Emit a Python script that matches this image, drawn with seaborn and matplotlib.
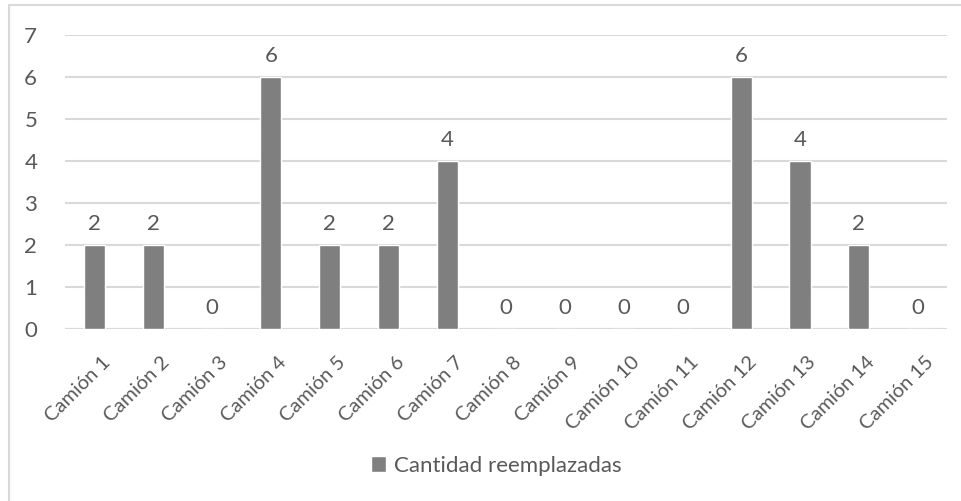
import matplotlib
matplotlib.use("Agg")
import matplotlib.pyplot as plt
import matplotlib.transforms as mtransforms
from matplotlib.patches import Patch, Rectangle
import pandas as pd
import seaborn as sns

# Data
camiones = [f"Camión {i}" for i in range(1, 16)]
cantidad = [2, 2, 0, 6, 2, 2, 4, 0, 0, 0, 0, 6, 4, 2, 0]
y_ticks = [0, 1, 2, 3, 4, 5, 6, 7]
serie = "Cantidad reemplazadas"

sns.set_style("white")
plt.rcParams["font.family"] = ["Lato", "DejaVu Sans"]

TEXT = "#595959"
BAR = "#7F7F7F"
GRID = "#D9D9D9"
FS = 16
FS_CAT = 14.5

W, H = 962, 501
fig = plt.figure(figsize=(W / 100, H / 100), dpi=100)

# Chart frame (only top/left edges fall inside the image)
fig.patches.append(Rectangle((9 / W, -0.1), 1.2, (H - 5) / H + 0.1,
                             transform=fig.transFigure, fill=False,
                             edgecolor=GRID, linewidth=1.5))

x0, x1 = 65, 947
y0, y7 = 329.3, 34.6
ax = fig.add_axes([x0 / W, (H - y0) / H, (x1 - x0) / W, (y0 - y7) / H])

df = pd.DataFrame({"camion": camiones, "cantidad": cantidad})
sns.barplot(data=df, x="camion", y="cantidad", color=BAR, width=0.36,
            saturation=1, ax=ax, zorder=3)

ax.set_xlim(-0.5, len(camiones) - 0.5)
ax.set_ylim(0, 7)
ax.set_yticks(y_ticks)
ax.yaxis.grid(True, color=GRID, linewidth=1.5, zorder=0)
ax.set_axisbelow(True)
for s in ax.spines.values():
    s.set_visible(False)
ax.axhline(0, color=GRID, linewidth=1.5, zorder=1)

ax.set_xlabel("")
ax.set_ylabel("")
ax.tick_params(axis="both", length=0, colors=TEXT, labelsize=FS)
ax.tick_params(axis="y", pad=20)
ax.set_xticks(range(len(camiones)))
ax.set_xticklabels(camiones, rotation=45, ha="right", va="top",
                   rotation_mode="anchor", color=TEXT, fontsize=FS_CAT)
ax.tick_params(axis="x", pad=14)

# nudge the slanted category labels so their ends sit just right of the ticks
shift = mtransforms.ScaledTranslation(7 / 100, -5 / 100, fig.dpi_scale_trans)
for lbl in ax.get_xticklabels():
    lbl.set_transform(lbl.get_transform() + shift)

for i, v in enumerate(cantidad):
    ax.annotate(str(v), (i, v), xytext=(0, 8), textcoords="offset points",
                ha="center", va="bottom", color=TEXT, fontsize=FS)

fig.legend(handles=[Patch(facecolor=BAR, label=serie)], loc="center",
           bbox_to_anchor=(496 / W, (H - 466) / H), frameon=False,
           fontsize=FS, labelcolor=TEXT, handlelength=0.7, handleheight=0.7,
           handletextpad=0.35)

fig.savefig("out.png", dpi=100)
